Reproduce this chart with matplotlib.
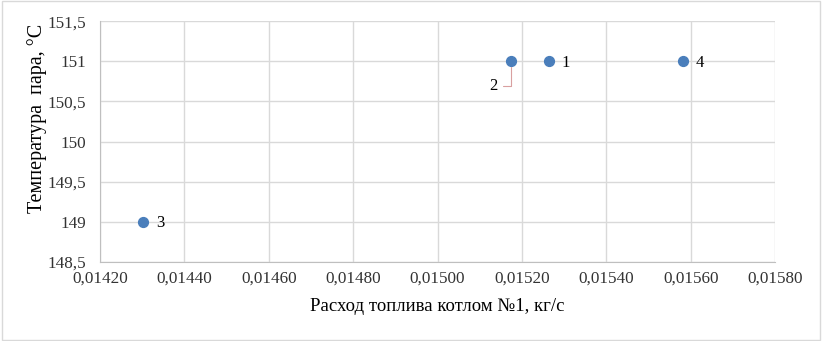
import matplotlib.pyplot as plt
from matplotlib.patches import Rectangle
from matplotlib.ticker import FuncFormatter

# Данные
rashod = [0.015265, 0.015175, 0.014303, 0.015581]
temperatura = [151, 151, 149, 151]
nomera = ["1", "2", "3", "4"]

plt.rcParams['font.family'] = ['Liberation Serif', 'DejaVu Serif']

fig = plt.figure(figsize=(8.22, 3.41), dpi=100)
ax = fig.add_axes([0.1217, 0.232, 0.8213, 0.706])

ax.scatter(rashod, temperatura, s=50, color="#4a7ebb", zorder=3)

for x, y, n in zip(rashod, temperatura, nomera):
    if n == "2":
        ax.annotate(n, xy=(x, y), xytext=(-10, -18), textcoords="offset points",
                    fontsize=12, ha="right", va="center",
                    arrowprops=dict(arrowstyle="-", color="#d9a0a0", lw=0.8,
                                    connectionstyle="angle,angleA=0,angleB=90,rad=0",
                                    shrinkA=2, shrinkB=4))
    else:
        ax.annotate(n, xy=(x, y), xytext=(9, -1), textcoords="offset points",
                    fontsize=12, ha="left", va="center")

ax.set_xlim(0.0142, 0.0158)
ax.set_ylim(148.5, 151.5)
ax.set_xticks([0.0142 + 0.0002 * i for i in range(9)])
ax.set_yticks([148.5 + 0.5 * i for i in range(7)])
ax.xaxis.set_major_formatter(FuncFormatter(lambda v, p: f"{v:.5f}".replace(".", ",")))
ax.yaxis.set_major_formatter(FuncFormatter(lambda v, p: f"{v:g}".replace(".", ",")))
ax.tick_params(length=0, labelsize=12.3, colors="#333333")
ax.tick_params(axis="x", pad=6)
ax.tick_params(axis="y", pad=10)

ax.grid(True, color="#d9d9d9", lw=1)
ax.set_axisbelow(True)
for s in ["top", "right"]:
    ax.spines[s].set_visible(False)
for s in ["left", "bottom"]:
    ax.spines[s].set_color("#bfbfbf")

ax.set_xlabel("Расход топлива котлом №1, кг/с", fontsize=13.5)
ax.set_ylabel("Температура  пара, °С", fontsize=14.5)
ax.xaxis.set_label_coords(0.5, -45 / 241, transform=ax.transAxes)
ax.xaxis.label.set_va("center")
ax.yaxis.set_label_coords((37 - 100) / 675, 0.598, transform=ax.transAxes)
ax.yaxis.label.set_va("center")

fig.patches.append(Rectangle((0.002, 0.003), 0.996, 0.994, transform=fig.transFigure,
                             fill=False, edgecolor="#d9d9d9", lw=1))

fig.savefig("out.png", dpi=100)
